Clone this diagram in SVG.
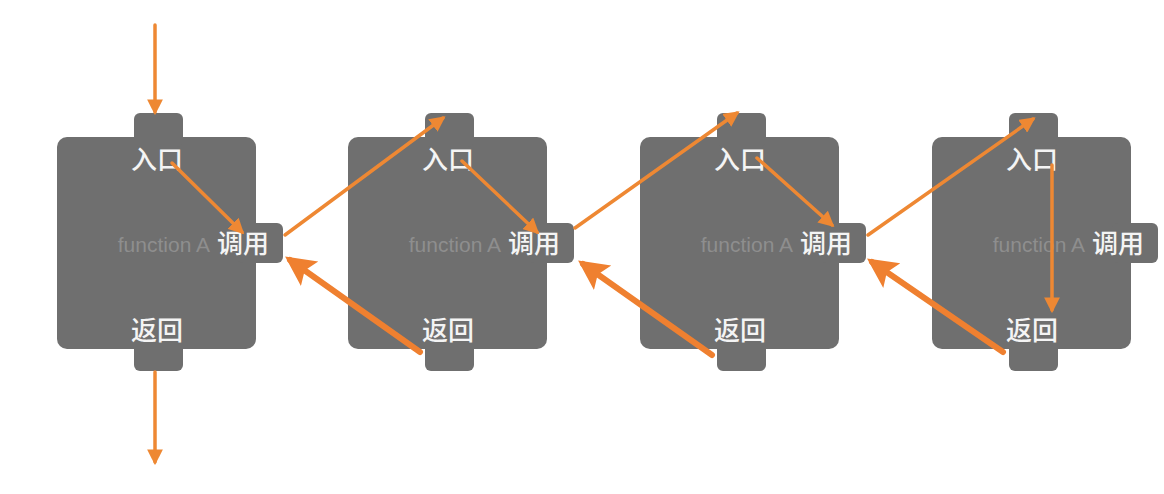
<svg xmlns="http://www.w3.org/2000/svg" width="1164" height="494" viewBox="0 0 1164 494">
<defs>
<style>
.body{fill:#6f6f6f}
.lbl{font-family:"Noto Sans CJK SC","Liberation Sans",sans-serif;font-size:26px;fill:#f4f4f4;font-weight:500}
.fn{font-family:"Liberation Sans",Arial,sans-serif;font-size:21px;fill:#8e8e8e}
.thin{stroke:#ee8833;stroke-width:3.5;fill:none;stroke-linecap:round}
.thick{stroke:#ef8030;stroke-width:6;fill:none;stroke-linecap:round}
</style>
<marker id="ah" viewBox="0 0 10 10" refX="8" refY="5" markerWidth="4.5" markerHeight="4.5" orient="auto" markerUnits="strokeWidth">
<path d="M0,0 L10,5 L0,10 z" fill="#ee8833"/>
</marker>
<marker id="ahb" viewBox="0 0 10 10" refX="8" refY="5" markerWidth="5" markerHeight="6" orient="auto" markerUnits="strokeWidth">
<path d="M0,0 L10,5 L0,10 L2,5 z" fill="#ef8030"/>
</marker>
<g id="block">
<rect class="body" x="0" y="0" width="199" height="212" rx="10"/>
<rect class="body" x="77" y="-24" width="49" height="34" rx="6"/>
<rect class="body" x="77" y="200" width="49" height="34" rx="6"/>
<rect class="body" x="180" y="86" width="46" height="40" rx="6"/>
<text class="lbl" x="100" y="32" text-anchor="middle">入口</text>
<text class="fn" x="153" y="115" text-anchor="end">function A</text>
<text class="lbl" x="160" y="116">调用</text>
<text class="lbl" x="100" y="203" text-anchor="middle">返回</text>
</g>
</defs>
<rect width="1164" height="494" fill="#ffffff"/>
<g id="node1"><use href="#block" x="57" y="137"/></g>
<g id="node2"><use href="#block" x="348" y="137"/></g>
<g id="node3"><use href="#block" x="640" y="137"/></g>
<g id="node4"><use href="#block" x="932" y="137"/></g>
<g id="connectors">
<line class="thin" x1="155" y1="25" x2="155" y2="112" marker-end="url(#ah)"/>
<line class="thin" x1="155" y1="372" x2="155" y2="462" marker-end="url(#ah)"/>
<line class="thin" x1="172" y1="163" x2="242" y2="232" marker-end="url(#ah)"/>
<line class="thin" x1="462" y1="161" x2="537" y2="232" marker-end="url(#ah)"/>
<line class="thin" x1="757" y1="158" x2="832" y2="225" marker-end="url(#ah)"/>
<line class="thin" x1="1052" y1="165" x2="1052" y2="310" marker-end="url(#ah)"/>
<line class="thin" x1="285" y1="235" x2="443" y2="118" marker-end="url(#ah)"/>
<line class="thin" x1="575" y1="228" x2="737" y2="113" marker-end="url(#ah)"/>
<line class="thin" x1="868" y1="235" x2="1033" y2="119" marker-end="url(#ah)"/>
<line class="thick" x1="420" y1="352" x2="290" y2="260" marker-end="url(#ahb)"/>
<line class="thick" x1="712" y1="355" x2="583" y2="264" marker-end="url(#ahb)"/>
<line class="thick" x1="1003" y1="352" x2="872" y2="262" marker-end="url(#ahb)"/>
</g>
</svg>
